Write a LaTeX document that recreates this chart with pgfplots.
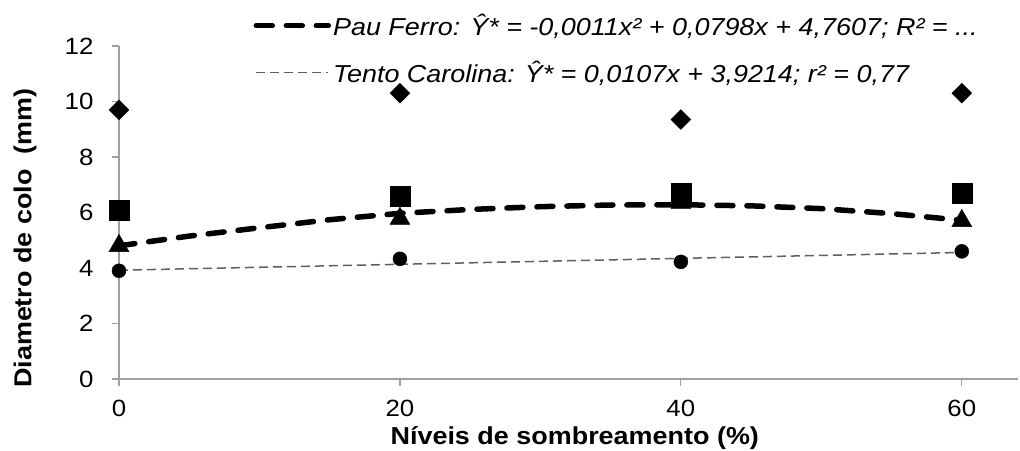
\documentclass[border=0pt]{standalone}
\usepackage{fontspec}
\setmainfont{Liberation Sans}[FakeStretch=1.1]
\usepackage{pgfplots}
\pgfplotsset{compat=1.18}
\definecolor{axisgray}{RGB}{160,160,160}
\definecolor{linegray}{RGB}{95,95,95}
\begin{document}
\begin{tikzpicture}
\path[use as bounding box] (-119pt,-71pt) rectangle (901pt,379pt);
\begin{axis}[
  at={(0pt,0pt)}, anchor=south west,
  scale only axis, width=899pt, height=333pt,
  xmin=0, xmax=64, ymin=0, ymax=12,
  axis x line=bottom, axis y line=left,
  axis line style={-, draw=axisgray, line width=1.2pt},
  xtick={0,20,40,60}, ytick={0,2,4,6,8,10,12},
  tick align=outside, major tick length=7pt,
  tick style={draw=axisgray, line width=1.2pt},
  /pgf/number format/assume math mode=true,
  tick label style={font=\fontsize{23.5}{28}\selectfont},
  yticklabel style={xshift=-15pt},
  xticklabel style={yshift=-11pt},
  label style={font=\bfseries\fontsize{24.5}{29}\selectfont},
  xlabel={Níveis de sombreamento (\%)},
  ylabel={Diametro de colo~~(mm)},
  xlabel style={at={(axis description cs:0.507,-0.176)}, anchor=center},
  ylabel style={at={(axis description cs:-0.1046,0.423)}, anchor=center},
  clip=false,
  legend style={at={(axis description cs:0.145,1.108)}, anchor=north west,
    draw=none, fill=none, font=\itshape\fontsize{24.5}{29}\selectfont,
    row sep=20pt, inner xsep=4pt, cells={anchor=west}},
  legend image code/.code={\draw[#1] (0pt,0pt) -- (72pt,0pt);},
]
% Pau Ferro trend (quadratic)
\addplot[black, line width=5.5pt, line cap=round, dash pattern=on 16pt off 14pt, mark=none]
  coordinates {(0,4.80) (5,5.15) (10,5.45) (15,5.74) (20,5.97) (25,6.11) (30,6.21) (35,6.27) (40,6.28) (45,6.24) (50,6.14) (55,5.96) (60,5.72)};
\addlegendentry{Pau Ferro: Ŷ* = -0,0011x² + 0,0798x + 4,7607; R² = ...}
% Tento Carolina trend (linear)
\addplot[linegray, line width=1.5pt, dash pattern=on 9pt off 5pt, mark=none]
  coordinates {(0,3.92) (60,4.56)};
\addlegendentry{Tento Carolina: Ŷ* = 0,0107x + 3,9214; r² = 0,77}
% Diamonds
\addplot[forget plot, only marks, mark=square*, mark size=7pt, mark options={rotate=45, fill=black, draw=black}]
  coordinates {(0,9.7) (20,10.3) (40,9.35) (60,10.3)};
% Squares
\addplot[forget plot, only marks, mark=square*, mark size=10pt, mark options={fill=black, draw=black}]
  coordinates {(0,6.1) (20,6.57) (40,6.7) (60,6.7)};
% Triangles
\addplot[forget plot, only marks, mark=triangle*, mark size=11.5pt, mark options={fill=black, draw=black}]
  coordinates {(0,4.8) (20,5.78) (40,6.35) (60,5.7)};
% Circles
\addplot[forget plot, only marks, mark=*, mark size=7pt, mark options={fill=black, draw=black}]
  coordinates {(0,3.9) (20,4.33) (40,4.22) (60,4.6)};
\end{axis}
\end{tikzpicture}
\end{document}
